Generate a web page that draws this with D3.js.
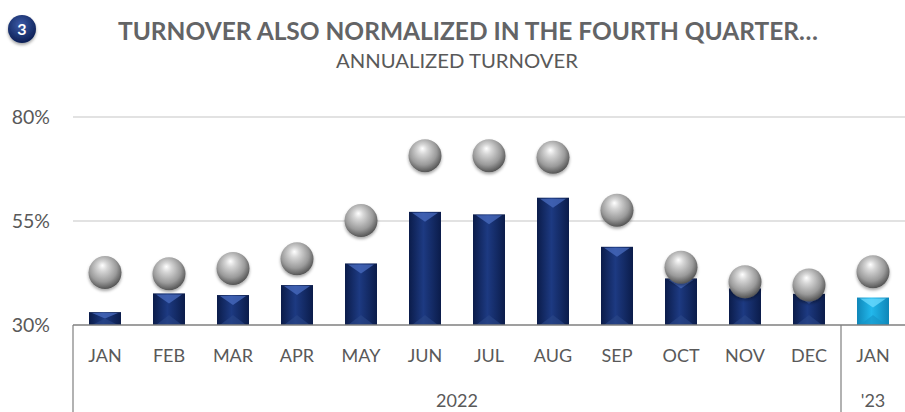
<!DOCTYPE html>
<html><head><meta charset="utf-8">
<script src="https://cdn.jsdelivr.net/npm/d3@7"></script>
<style>
html,body{margin:0;padding:0;background:#fff;}
svg{display:block;}
</style></head>
<body>
<script>
// ---- data ----
const months = ["JAN","FEB","MAR","APR","MAY","JUN","JUL","AUG","SEP","OCT","NOV","DEC","JAN"];
const yearGroups = [{label:"2022", from:0, to:11}, {label:"'23", from:12, to:12}];
const turnover = [33.1, 37.6, 37.2, 39.6, 44.8, 57.2, 56.6, 60.6, 48.8, 41.2, 38.8, 37.5, 36.6];
const priorYear = [42.6, 42.3, 43.6, 45.9, 55.1, 70.7, 70.7, 70.3, 57.6, 43.9, 40.4, 39.6, 42.8];
const yTicks = [30, 55, 80];
const title = "TURNOVER ALSO NORMALIZED IN THE FOURTH QUARTER…";
const subtitle = "ANNUALIZED TURNOVER";
const badge = "3";

const W = 905, H = 412;
const font = "Lato,'Open Sans',sans-serif";
const svg = d3.select("body").append("svg").attr("width", W).attr("height", H);
const defs = svg.append("defs");

const x = d3.scaleBand().domain(d3.range(months.length)).range([73, 905]).paddingInner(0.5).paddingOuter(0.25);
const y = d3.scaleLinear().domain([30, 80]).range([325, 117]);

// gradients
function barGrad(id, edge, mid) {
  const g = defs.append("linearGradient").attr("id", id).attr("x1", 0).attr("x2", 1).attr("y1", 0).attr("y2", 0);
  g.append("stop").attr("offset", "0%").attr("stop-color", edge);
  g.append("stop").attr("offset", "45%").attr("stop-color", mid);
  g.append("stop").attr("offset", "100%").attr("stop-color", edge);
}
barGrad("navy", "#0b1c4a", "#1d3a82");
barGrad("cyan", "#0f86b8", "#22b8ec");
const rg = defs.append("radialGradient").attr("id", "sphere").attr("cx", "45%").attr("cy", "40%").attr("r", "60%").attr("fx", "42%").attr("fy", "28%");
rg.append("stop").attr("offset", "0%").attr("stop-color", "#ffffff");
rg.append("stop").attr("offset", "25%").attr("stop-color", "#d6d6d6");
rg.append("stop").attr("offset", "70%").attr("stop-color", "#9a9a9a");
rg.append("stop").attr("offset", "100%").attr("stop-color", "#555555");
const bg = defs.append("radialGradient").attr("id", "badge").attr("cx", "45%").attr("cy", "35%").attr("r", "65%");
bg.append("stop").attr("offset", "0%").attr("stop-color", "#3c5ba8");
bg.append("stop").attr("offset", "100%").attr("stop-color", "#0c1f55");
const sh = defs.append("filter").attr("id", "shadow").attr("x", "-30%").attr("y", "-30%").attr("width", "160%").attr("height", "170%");
sh.append("feDropShadow").attr("dx", 0).attr("dy", 2).attr("stdDeviation", 1.5).attr("flood-color", "#000").attr("flood-opacity", 0.35);

// title
svg.append("circle").attr("cx", 22).attr("cy", 29).attr("r", 14).attr("fill", "url(#badge)").attr("filter", "url(#shadow)");
svg.append("text").attr("x", 22).attr("y", 35).attr("text-anchor", "middle").attr("fill", "#fff")
  .attr("font-family", font).attr("font-weight", "bold").attr("font-size", 16).text(badge);
svg.append("text").attr("x", 468).attr("y", 40).attr("text-anchor", "middle").attr("fill", "#636466")
  .attr("font-family", font).attr("font-weight", "bold").attr("font-size", 25)
  .attr("textLength", 700).attr("lengthAdjust", "spacingAndGlyphs").text(title);
svg.append("text").attr("x", 457).attr("y", 68).attr("text-anchor", "middle").attr("fill", "#595959")
  .attr("font-family", font).attr("font-size", 19)
  .attr("textLength", 242).attr("lengthAdjust", "spacingAndGlyphs").text(subtitle);

// gridlines
svg.append("g").selectAll("line").data(yTicks.filter(d => d !== 30)).join("line")
  .attr("x1", 73).attr("x2", 905).attr("y1", d => y(d)).attr("y2", d => y(d))
  .attr("stroke", "#d9d9d9").attr("stroke-width", 1.5);
// y labels
svg.append("g").selectAll("text").data(yTicks).join("text")
  .attr("x", 50).attr("y", d => y(d) + 7).attr("text-anchor", "end").attr("fill", "#595959")
  .attr("font-family", font).attr("font-size", 19.5).text(d => d + "%");

// bars
const bars = svg.append("g");
turnover.forEach((v, i) => {
  const x0 = x(i), bw = x.bandwidth(), y0 = y(v), y1 = y(30);
  const last = i === turnover.length - 1;
  const g = bars.append("g");
  g.append("rect").attr("x", x0).attr("y", y0).attr("width", bw).attr("height", y1 - y0)
    .attr("fill", last ? "url(#cyan)" : "url(#navy)");
  const bev = Math.min(10, (y1 - y0) / 2);
  g.append("polygon").attr("points", `${x0+3},${y0+1} ${x0+bw-3},${y0+1} ${x0+bw/2},${y0+bev}`)
    .attr("fill", last ? "#6fdcff" : "#4a6cc0").attr("opacity", 0.75);
  g.append("polygon").attr("points", `${x0+3},${y1} ${x0+bw-3},${y1} ${x0+bw/2},${y1-bev}`)
    .attr("fill", last ? "#1593c6" : "#2b4788").attr("opacity", 0.6);
});

// spheres
svg.append("g").selectAll("circle").data(priorYear).join("circle")
  .attr("cx", (d, i) => x(i) + x.bandwidth() / 2).attr("cy", d => y(d)).attr("r", 16.5)
  .attr("fill", "url(#sphere)").attr("filter", "url(#shadow)");

// axis line + category axis
svg.append("line").attr("x1", 73).attr("x2", 905).attr("y1", y(30)).attr("y2", y(30)).attr("stroke", "#7f7f7f").attr("stroke-width", 1.5);
const step = x.step();
const boundaries = [x(0) - x.paddingOuter() * step];
yearGroups.forEach(g => boundaries.push(x(g.to) + x.bandwidth() + x.paddingInner() * step / 2));
svg.append("g").selectAll("line").data(boundaries.slice(0, -1)).join("line")
  .attr("x1", d => d).attr("x2", d => d).attr("y1", y(30)).attr("y2", H)
  .attr("stroke", "#7f7f7f").attr("stroke-width", 1.2);
svg.append("g").selectAll("text").data(months).join("text")
  .attr("x", (d, i) => x(i) + x.bandwidth() / 2).attr("y", 362).attr("text-anchor", "middle")
  .attr("fill", "#595959").attr("font-family", font).attr("font-size", 18).text(d => d);
svg.append("g").selectAll("text").data(yearGroups).join("text")
  .attr("x", d => (x(d.from) + x(d.to) + x.bandwidth()) / 2).attr("y", 407).attr("text-anchor", "middle")
  .attr("fill", "#595959").attr("font-family", font).attr("font-size", 18).text(d => d.label);
</script>
</body></html>
